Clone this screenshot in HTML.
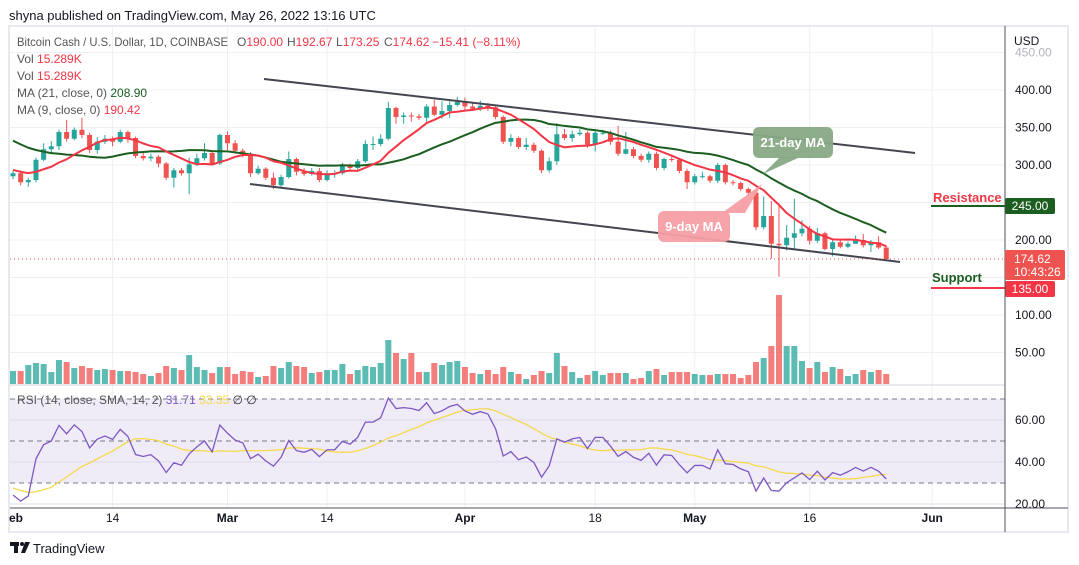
<!DOCTYPE html>
<html><head><meta charset="utf-8"><style>
html,body{margin:0;padding:0;background:#fff;}
svg{display:block;font-family:"Liberation Sans",sans-serif;}
</style></head><body>
<svg id="chart" width="1079" height="565" viewBox="0 0 1079 565" xmlns="http://www.w3.org/2000/svg">
<rect x="0" y="0" width="1079" height="565" fill="#fff"/>
<text x="9" y="20" font-size="13" fill="#131722">shyna published on TradingView.com, May 26, 2022 13:16 UTC</text>
<rect x="9" y="26" width="1059" height="506" fill="none" stroke="#e6e9ef" stroke-width="2"/>
<g id="grid"></g>
<rect id="rsiband" x="10" y="0" width="995" height="0" fill="#efecf8"/>
<g id="rsigrid"></g>
<g id="vol"></g>
<g id="candles"></g>
<g id="mas"></g>
<line x1="264" y1="79" x2="915" y2="153" stroke="#434651" stroke-width="2"/>
<line x1="250" y1="184" x2="900" y2="262" stroke="#434651" stroke-width="2"/>
<g>
<polygon points="780,157 800,157 763,174" fill="#87a985" opacity="0.95"/>
<rect x="753" y="127" width="80" height="31" rx="6" fill="#87a985" opacity="0.95"/>
<text x="793" y="147" font-size="13" font-weight="bold" fill="#fff" text-anchor="middle">21-day MA</text>
</g>
<g>
<polygon points="722,213 745,213 762,184" fill="#f59ea5" opacity="0.95"/>
<rect x="658" y="211" width="72" height="31" rx="6" fill="#f59ea5" opacity="0.95"/>
<text x="694" y="231" font-size="13" font-weight="bold" fill="#fff" text-anchor="middle">9-day MA</text>
</g>
<line id="lastline" x1="10" x2="1005" stroke="#ef5350" stroke-dasharray="1,3" stroke-width="1"/>
<g>
<text x="933" y="202" font-size="13" font-weight="bold" fill="#f23645">Resistance</text>
<line x1="931" y1="206" x2="1005" y2="206" stroke="#1b5e20" stroke-width="2"/>
<rect x="1005" y="198" width="50" height="16" rx="2" fill="#1b5e20"/>
<text x="1030" y="210" font-size="12" fill="#fff" text-anchor="middle">245.00</text>
</g>
<g>
<text x="932" y="282" font-size="13" font-weight="bold" fill="#1b5e20">Support</text>
<line x1="931" y1="288" x2="1005" y2="288" stroke="#f23645" stroke-width="2"/>
<rect x="1005" y="281" width="50" height="16" rx="2" fill="#f23645"/>
<text x="1030" y="293" font-size="12" fill="#fff" text-anchor="middle">135.00</text>
</g>
<line x1="10" y1="385" x2="1005" y2="385" stroke="#d1d4dc" stroke-width="1"/>
<line x1="1005" y1="26" x2="1005" y2="532" stroke="#50535e" stroke-width="1"/>
<line x1="10" y1="508" x2="1068" y2="508" stroke="#50535e" stroke-width="1"/>
<g id="paxis"></g>
<text x="1014" y="45" font-size="12" fill="#131722">USD</text>
<g>
<rect x="1005" y="250" width="60" height="30" rx="2" fill="#ef5350"/>
<text x="1014" y="263" font-size="12" fill="#fff">174.62</text>
<text x="1014" y="276" font-size="12" fill="#fff">10:43:26</text>
</g>
<g id="taxis"></g>
<g font-size="12">
<text x="17" y="46" fill="#555" textLength="211" lengthAdjust="spacingAndGlyphs">Bitcoin Cash / U.S. Dollar, 1D, COINBASE</text>
<text y="46" fill="#555"><tspan x="237">O</tspan><tspan fill="#f23645">190.00</tspan><tspan x="287">H</tspan><tspan fill="#f23645">192.67</tspan><tspan x="336">L</tspan><tspan fill="#f23645">173.25</tspan><tspan x="384">C</tspan><tspan fill="#f23645">174.62</tspan><tspan x="432" fill="#f23645">−15.41 (−8.11%)</tspan></text>
<text x="17" y="63" fill="#555">Vol <tspan fill="#f23645">15.289K</tspan></text>
<text x="17" y="80" fill="#555">Vol <tspan fill="#f23645">15.289K</tspan></text>
<text x="17" y="97" fill="#555">MA (21, close, 0) <tspan fill="#1b5e20">208.90</tspan></text>
<text x="17" y="114" fill="#555">MA (9, close, 0) <tspan fill="#f23645">190.42</tspan></text>
<text x="17" y="404" fill="#555">RSI (14, close, SMA, 14, 2) <tspan fill="#7e57c2">31.71</tspan> <tspan fill="#f5d94a">33.35</tspan> <tspan fill="#333">∅ ∅</tspan></text>
</g>
<g>
<rect x="10" y="542" width="9" height="4" fill="#131722"/>
<rect x="14" y="542" width="4" height="11" fill="#131722"/>
<circle cx="22" cy="544" r="2" fill="#131722"/>
<polygon points="25,542 30,542 25,553 21,553" fill="#131722"/>
<text x="33" y="553" font-size="13" fill="#131722">TradingView</text>
</g>
<g id="rsi"></g>
</svg>
<script>
const preCloses=[380,375,370,368,365,362,360,358,355,352,350,345,300,295,292,290,295,293,297,290];
const closes=[289,277,280,307,321,325,344,335,347,340,
320,331,335,331,344,336,312,309,311,302,
283,293,289,301,309,316,302,340,329,319,
315,289,295,283,273,284,308,291,288,292,
280,289,289,300,296,305,328,328,335,376,
364,366,365,363,378,367,372,380,384,378,
375,379,377,364,331,336,324,327,319,293,
305,341,336,341,343,327,343,343,331,315,
321,312,307,315,296,308,307,292,277,285,
285,279,300,277,276,268,263,217,232,195,
193,203,209,215,199,209,188,197,191,195,
200,193,197,190,174.62];
const highs=[292,293,283,310,329,332,347,360,350,363,
343,337,340,338,347,346,338,316,315,313,
304,296,296,310,315,329,318,342,345,333,
322,317,299,297,290,287,318,310,296,296,
296,293,293,303,302,308,333,338,341,384,
378,370,370,368,381,387,385,385,391,390,
382,386,383,380,366,341,338,336,330,321,
310,356,348,346,348,345,347,347,346,352,
344,324,315,318,318,310,312,309,295,288,
291,287,303,302,280,278,270,265,258,252,
249,220,255,226,219,216,211,202,200,198,
206,208,200,205,192.67];
const lows=[281,273,271,277,305,316,320,331,333,336,
316,315,328,325,329,330,309,306,305,297,
280,270,286,261,299,306,300,300,320,315,
310,284,287,280,268,270,282,286,285,286,
277,278,283,287,292,294,303,320,325,333,
355,355,358,360,355,365,362,363,378,372,
372,372,372,361,328,325,321,320,316,289,
290,300,333,331,339,323,318,340,327,312,
314,309,304,303,293,293,304,289,268,274,
282,276,276,274,273,265,259,213,214,175,
151,186,188,205,194,196,186,178,189,189,
195,190,184,188,173.25];
const volumes=[13,13,19,21,20,12,24,22,16,18,
16,14,15,14,13,13,12,10,8,11,
18,16,14,29,17,14,11,17,17,10,
13,12,7,8,18,16,22,18,17,11,
12,14,14,20,10,14,18,17,21,44,
31,25,31,12,12,21,19,22,23,17,
11,10,14,10,17,12,10,5,9,13,
11,31,18,12,6,9,13,9,11,11,
11,5,6,13,15,9,12,12,12,10,
9,9,10,10,10,6,9,22,26,38,
89,38,38,23,16,22,12,17,15,8,
10,14,12,14,10];
const firstOpen=285;
const rsiSeedGain=5;
const rsiSeedLoss=6;
const priceTicks=[450,400,350,300,250,200,150,100,50];
const priceTickLabels=["450.00","400.00","350.00","300.00","","200.00","","100.00","50.00"];
const rsiTicks=[60,40,20];
const rsiLevels=[70,50,30];
const dateTickDays=[13,28,41,59,76,89,104,120];
const dateTickLabels=["14","Mar","14","Apr","18","May","16","Jun"];
const dateTickBold=[false,true,false,true,false,true,false,true];

const NS="http://www.w3.org/2000/svg";
const X=d=>13+d*7.66;
const Y=p=>90+(400-p)*0.75;
const RY=v=>399+(70-v)*2.1;
const VY=v=>384-v;
function mk(tag,attrs,parent){const e=document.createElementNS(NS,tag);for(const k in attrs)e.setAttribute(k,attrs[k]);parent.appendChild(e);return e;}
const G=id=>document.getElementById(id);

const grid=G('grid');
priceTicks.forEach((p,i)=>{
  const l=mk('line',{x1:10,x2:1005,y1:Y(p),y2:Y(p),stroke:'#edf0f4','stroke-width':1},grid);
  
  
});
dateTickDays.forEach(d=>{
  const l=mk('line',{x1:X(d),x2:X(d),y1:27,y2:508,stroke:'#edf0f4','stroke-width':1},grid);
  
  
});
const band=G('rsiband');band.setAttribute('y',RY(70));band.setAttribute('height',RY(30)-RY(70));
const rg=G('rsigrid');
rsiTicks.forEach(v=>{
  const l=mk('line',{x1:10,x2:1005,y1:RY(v),y2:RY(v),stroke:'#dcdde8','stroke-width':1},rg);
  
  
});
rsiLevels.forEach(v=>{
  const l=mk('line',{x1:10,x2:1005,y1:RY(v),y2:RY(v),stroke:'#787b86','stroke-width':1,'stroke-dasharray':'5,4'},rg);
  
  
});
const ll=G('lastline');ll.setAttribute('y1',Y(closes[closes.length-1]));ll.setAttribute('y2',Y(closes[closes.length-1]));

const vg=G('vol'),cg=G('candles');
closes.forEach((c,i)=>{
  const o=i===0?firstOpen:closes[i-1];
  const up=c>=o;
  const x=X(i);
  const v=mk('rect',{x:x-3,y:VY(volumes[i]),width:6,height:volumes[i],fill:up?'rgba(38,166,154,0.75)':'rgba(239,83,80,0.75)'},vg);
  
  
  const col=up?'#26a69a':'#ef5350';
  const w=mk('line',{x1:x,x2:x,y1:Y(highs[i]),y2:Y(lows[i]),stroke:col,'stroke-width':1},cg);
  
  
  const top=Y(Math.max(o,c)),bot=Y(Math.min(o,c));
  const b=mk('rect',{x:x-2.5,y:top,width:5,height:Math.max(1,bot-top),fill:col},cg);
  
  
});
const all=preCloses.concat(closes);
function ma(n){return closes.map((_,i)=>{const j=i+preCloses.length;let s=0;for(let k=j-n+1;k<=j;k++)s+=all[k];return s/n;});}
const mg=G('mas');
[[21,'#1b5e20'],[9,'#f23645']].forEach(([n,col])=>{
  const vals=ma(n);
  const p=mk('polyline',{points:vals.map((v,i)=>X(i)+','+Y(v)).join(' '),fill:'none',stroke:col,'stroke-width':2,'stroke-linejoin':'round'},mg);
  
  
});
let ag=rsiSeedGain,al=rsiSeedLoss;
const rsiAll=[];
for(let k=1;k<all.length;k++){const d=all[k]-all[k-1];ag=(ag*13+Math.max(d,0))/14;al=(al*13+Math.max(-d,0))/14;rsiAll.push(al===0?100:100-100/(1+ag/al));}
const off=rsiAll.length-closes.length;
const rsi=rsiAll.slice(off);
const rsiSma=rsi.map((_,i)=>{const j=i+off;let s=0,n=0;for(let k=Math.max(0,j-13);k<=j;k++){s+=rsiAll[k];n++;}return s/n;});
const rp=G('rsi');
const sm=mk('polyline',{points:rsiSma.map((v,i)=>X(i)+','+RY(v)).join(' '),fill:'none',stroke:'#f5d94a','stroke-width':1.3},rp);


const rl=mk('polyline',{points:rsi.map((v,i)=>X(i)+','+RY(v)).join(' '),fill:'none',stroke:'#7e57c2','stroke-width':1.3},rp);


const pa=G('paxis');
priceTicks.forEach((p,i)=>{
  if(!priceTickLabels[i])return;
  const t=mk('text',{x:1015,y:Y(p)+4,'font-size':12,fill:p===450?'#b2b5be':'#131722'},pa);
  t.textContent=priceTickLabels[i];
  
  
});
rsiTicks.forEach(v=>{
  const t=mk('text',{x:1015,y:RY(v)+4,'font-size':12,fill:'#131722'},pa);
  t.textContent=v.toFixed(2);
  
  
});
const ta=G('taxis');
const eb=mk('text',{x:9,y:522,'font-size':12,'font-weight':'bold',fill:'#131722'},ta);
eb.textContent='eb';


dateTickDays.forEach((d,i)=>{
  const t=mk('text',{x:X(d),y:522,'font-size':12,'text-anchor':'middle','font-weight':dateTickBold[i]?'bold':'normal',fill:'#131722'},ta);
  t.textContent=dateTickLabels[i];
  
  
});
</script>
</body></html>
